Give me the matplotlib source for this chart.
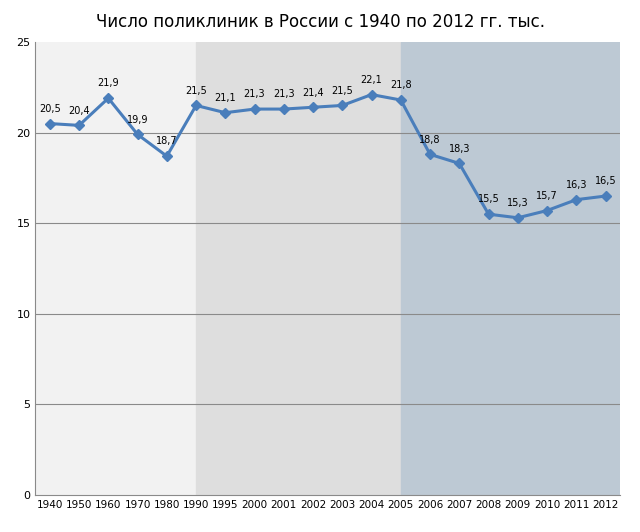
import matplotlib.pyplot as plt
import numpy as np

years = ['1940', '1950', '1960', '1970', '1980', '1990', '1995', '2000', '2001', '2002',
         '2003', '2004', '2005', '2006', '2007', '2008', '2009', '2010', '2011', '2012']
values = [20.5, 20.4, 21.9, 19.9, 18.7, 21.5, 21.1, 21.3, 21.3, 21.4,
          21.5, 22.1, 21.8, 18.8, 18.3, 15.5, 15.3, 15.7, 16.3, 16.5]

x = np.arange(len(years))

fig = plt.figure(figsize=(6.4, 5.32), dpi=100)
ax = fig.add_axes([0.055, 0.0695, 0.914, 0.8515])

# фоновые зоны
ax.axvspan(-0.5, 5, color='#f2f2f2', zorder=0)
ax.axvspan(5, 12, color='#dedede', zorder=0)
ax.axvspan(12, len(years) - 0.5, color='#bdc9d4', zorder=0)

for yv in [5, 10, 15, 20]:
    ax.axhline(yv, color='#8a8a8a', lw=0.8, zorder=1)

ax.plot(x, values, color='#4a7ebb', lw=2.2, marker='D', ms=5, zorder=3)
for xi, v in zip(x, values):
    ax.annotate(f'{v:.1f}'.replace('.', ','), (xi, v), xytext=(0, 7),
                textcoords='offset points', ha='center', va='bottom', fontsize=7)

ax.set_xlim(-0.5, len(years) - 0.5)
ax.set_ylim(0, 25)
ax.set_yticks([0, 5, 10, 15, 20, 25])
ax.set_xticks(x)
ax.set_xticklabels(years, fontsize=7.5)
ax.tick_params(axis='y', labelsize=8, length=0)
ax.tick_params(axis='x', length=0)
for s in ['top', 'right']:
    ax.spines[s].set_visible(False)
ax.spines['left'].set_color('#8a8a8a')
ax.spines['bottom'].set_color('#8a8a8a')

fig.suptitle('Число поликлиник в России с 1940 по 2012 гг. тыс.', fontsize=12, y=0.975)

fig.savefig('out.png', dpi=100)
